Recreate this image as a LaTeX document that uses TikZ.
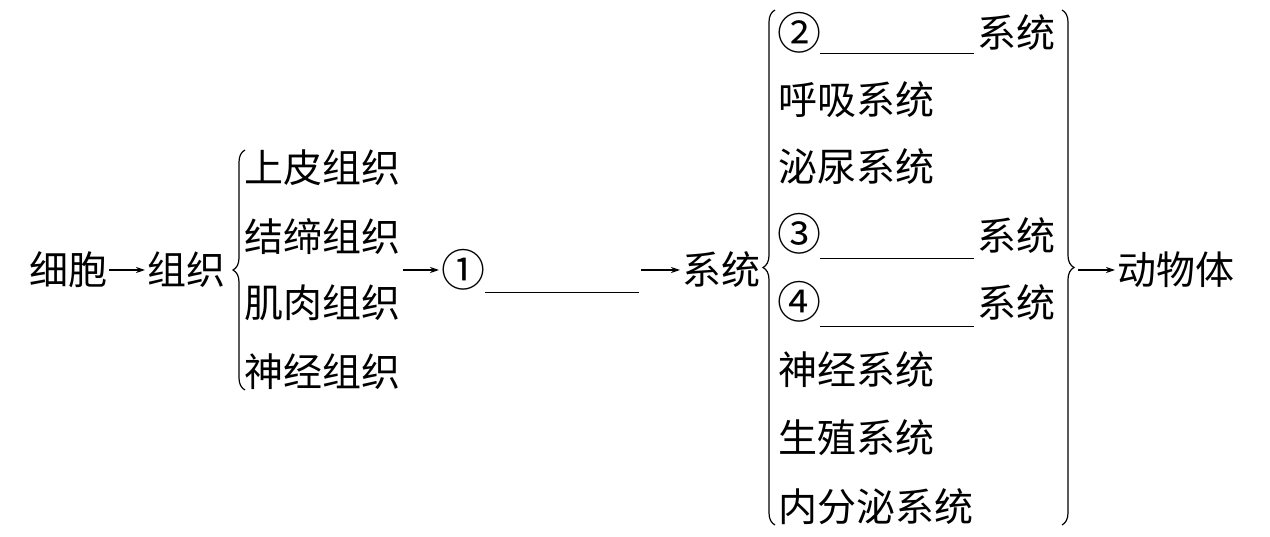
\documentclass[tikz,border=0pt]{standalone}
\usepackage{fontspec}
\setmainfont{Noto Sans CJK SC}
\usetikzlibrary{decorations.pathreplacing,arrows.meta}
\begin{document}
\begin{tikzpicture}[x=1pt,y=1pt,
  txt/.style={anchor=west,inner sep=0pt,font=\fontsize{39}{41}\selectfont},
  circ/.style={anchor=west,inner sep=0pt,font=\fontsize{44}{46}\selectfont},
  blank/.style={anchor=west,inner sep=0pt,minimum width=154pt,minimum height=44pt},
  arr/.style={-{Stealth[length=9pt,width=6pt]},line width=1.2pt,shorten <=2pt,shorten >=2pt},
  brc/.style={decorate,decoration={brace,amplitude=12pt},line width=1.2pt},
  ul/.style={line width=1.2pt}]
\useasboundingbox (0,0) rectangle (1270,536);
% left part
\node[txt] (xibao) at (29,266) {细胞};
\node[txt] (zz) at (147,266) {组织};
\draw[arr] (xibao.east) -- (zz.west);
\draw[brc] (245,146) -- (245,386);
\node[txt] (t1) at (244,368) {上皮组织};
\node[txt] (t2) at (244,299) {结缔组织};
\node[txt] (t3) at (244,233) {肌肉组织};
\node[txt] (t4) at (244,164) {神经组织};
% organ
\coordinate (a1) at (401,266);
\node[circ] (n1) at (441,266) {①};
\draw[arr] (a1) -- (n1.west);
\node[blank] (b1) at (485,266) {};
\draw[ul] (b1.south west) -- (b1.south east);
\node[txt] (xt) at (682,266) {系统};
\draw[arr] (b1.east) -- (xt.west);
% systems
\draw[brc] (775,11) -- (775,526);
\node[circ] (s2) at (777,503) {②};
\node[blank] (b2) at (820,505) {};
\draw[ul] (b2.south west) -- (b2.south east);
\node[txt] (s2b) at (977,503) {系统};
\node[txt] (s5) at (778,436) {呼吸系统};
\node[txt] (s6) at (778,369) {泌尿系统};
\node[circ] (s3) at (777,302) {③};
\node[blank] (b3) at (820,300) {};
\draw[ul] (b3.south west) -- (b3.south east);
\node[txt] (s3b) at (977,300) {系统};
\node[circ] (s4) at (777,234) {④};
\node[blank] (b4) at (820,232) {};
\draw[ul] (b4.south west) -- (b4.south east);
\node[txt] (s4b) at (977,233) {系统};
\node[txt] (s7) at (778,166) {神经系统};
\node[txt] (s8) at (778,98) {生殖系统};
\node[txt] (s9) at (778,29) {内分泌系统};
\draw[brc] (1062,526) -- (1062,11);
% animal
\coordinate (a3) at (1076,266);
\node[txt] (dwt) at (1117,266) {动物体};
\draw[arr] (a3) -- (dwt.west);
\end{tikzpicture}
\end{document}
